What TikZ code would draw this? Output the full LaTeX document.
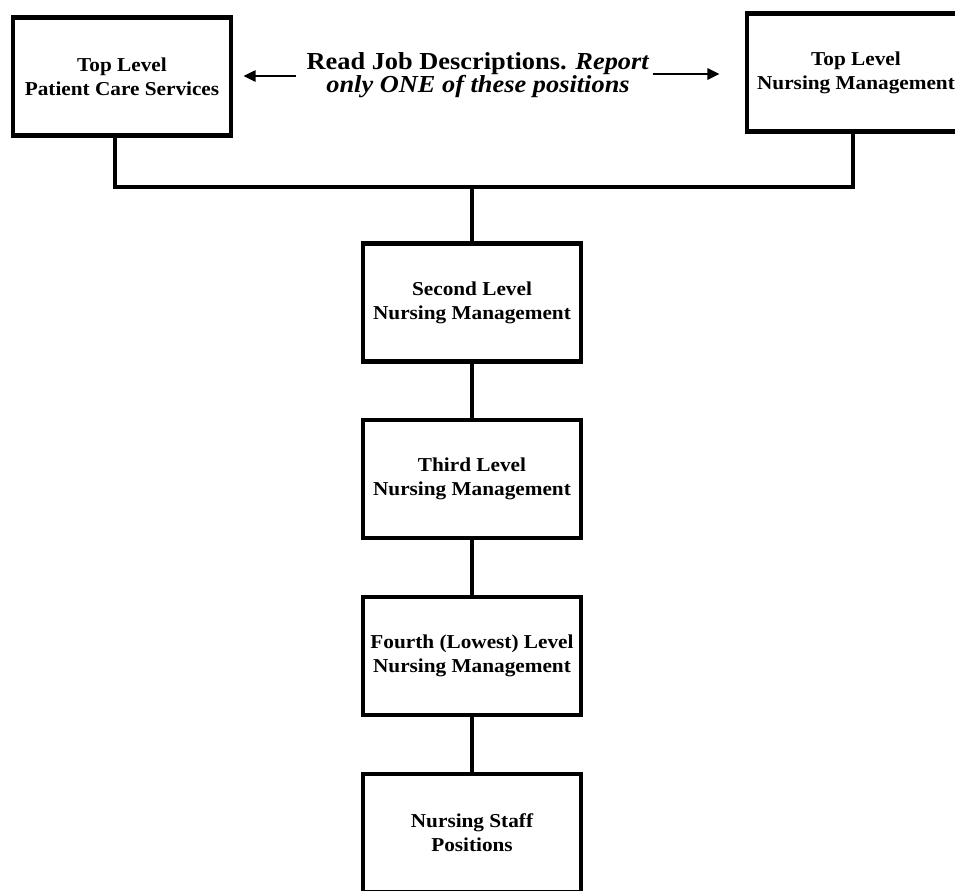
\documentclass[tikz,border=0pt]{standalone}
\usepackage{fontspec}
\setmainfont[FakeStretch=1.08]{Liberation Serif}
\usepackage{tikz}
\usetikzlibrary{positioning}
\usetikzlibrary{arrows.meta,shapes}
\usetikzlibrary{calc}

\begin{document}
\begin{tikzpicture}
  [x=0.02cm,y=-0.02cm,
  posbox/.style={rectangle,draw=black,line width=2.8pt,minimum width=4.36cm,minimum height=2.36cm,inner sep=0pt,align=center,font=\fontsize{11.2}{13.8}\selectfont\bfseries},
  link/.style={black,line width=2.6pt},
  pointer/.style={-{Triangle[length=7pt,width=6.5pt]},black,line width=1.1pt}]
  \useasboundingbox (0,0) rectangle (955,890);
  \clip (0,0) rectangle (955,890);

  \node[posbox] (pcs) at (122,76.5) {Top Level\\Patient Care Services};
  \node[posbox] (tnm) at (856,72.5) {Top Level\\Nursing Management};

  \node[align=center,inner sep=0pt,font=\fontsize{13.9}{13.2}\selectfont\bfseries] (note) at (478,75)
    {Read Job Descriptions. \textit{Report}\\\textit{only ONE of these positions}};

  \node[posbox] (second) at (472,302.5) {Second Level\\Nursing Management};
  \node[posbox] (third) at (472,479) {Third Level\\Nursing Management};
  \node[posbox] (fourth) at (472,656) {Fourth (Lowest) Level\\Nursing Management};
  \node[posbox] (staff) at (472,833) {Nursing Staff\\Positions};

  \coordinate (fork) at (472,187);

  \draw [pointer] ($(note.west)+(-10,1)$) -- ($(note.west -| pcs.east)+(10,1)$);
  \draw [pointer] ($(note.east)+(3,-1)$) -- ($(note.east -| tnm.west)+(-25,-1)$);

  \draw [link] ([xshift=-0.14cm]pcs.south) |- (fork) -| ([xshift=-0.06cm]tnm.south);
  \draw [link] (fork) -- (second);
  \draw [link] (second) -- (third);
  \draw [link] (third) -- (fourth);
  \draw [link] (fourth) -- (staff);

\end{tikzpicture}
\end{document}
